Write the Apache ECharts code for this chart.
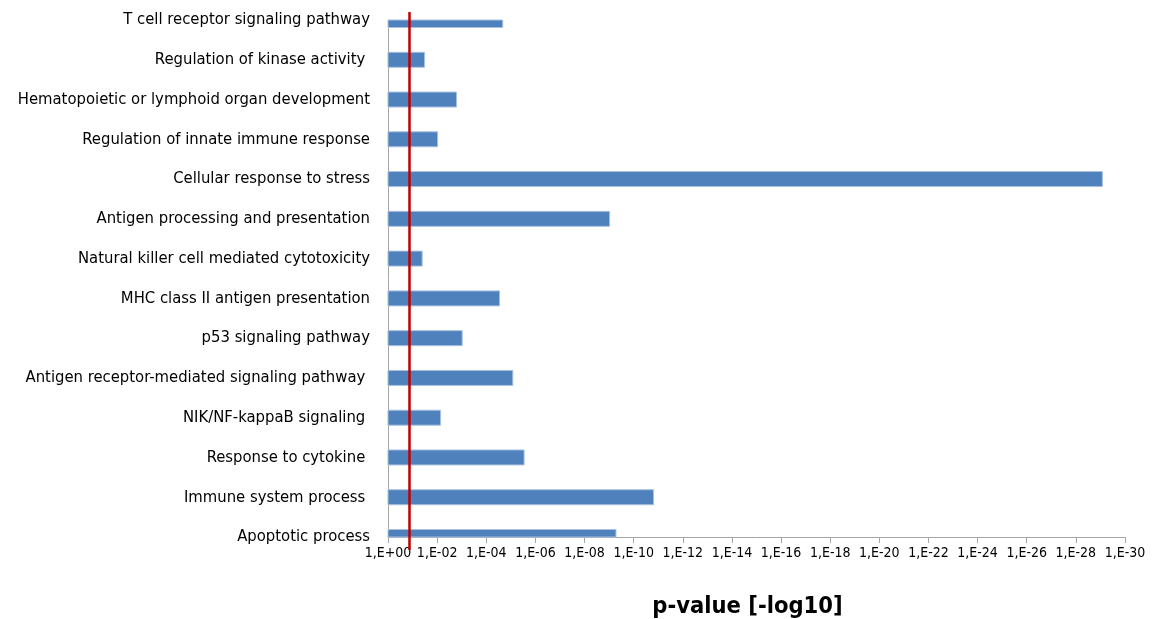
<!DOCTYPE html>
<html>
<head>
<meta charset="utf-8">
<script src="https://cdn.jsdelivr.net/npm/echarts@6/dist/echarts.min.js"></script>
<style>
  html, body { margin: 0; padding: 0; background: #fff; }
  #chart { width: 1153px; height: 619px; }
</style>
</head>
<body>
<div id="chart"></div>
<script>
  // categories, top to bottom
  var terms = [
    'T cell receptor signaling pathway',
    'Regulation of kinase activity ',
    'Hematopoietic or lymphoid organ development',
    'Regulation of innate immune response',
    'Cellular response to stress',
    'Antigen processing and presentation',
    'Natural killer cell mediated cytotoxicity',
    'MHC class II antigen presentation',
    'p53 signaling pathway',
    'Antigen receptor-mediated signaling pathway ',
    'NIK/NF-kappaB signaling ',
    'Response to cytokine ',
    'Immune system process ',
    'Apoptotic process'
  ];
  // -log10(p)
  var negLogP = [4.67, 1.49, 2.79, 2.02, 29.08, 9.02, 1.39, 4.54, 3.02, 5.08, 2.14, 5.54, 10.81, 9.28];
  // threshold line (red)
  var cutoff = 0.875;
  var xTicks = [0, 2, 4, 6, 8, 10, 12, 14, 16, 18, 20, 22, 24, 26, 28, 30];
  var xTickLabels = ['1,E+00', '1,E-02', '1,E-04', '1,E-06', '1,E-08', '1,E-10', '1,E-12', '1,E-14',
    '1,E-16', '1,E-18', '1,E-20', '1,E-22', '1,E-24', '1,E-26', '1,E-28', '1,E-30'];

  var font = '"Liberation Sans Narrow", "DejaVu Sans Condensed", sans-serif';
  var chart = echarts.init(document.getElementById('chart'));

  // bars sit on the category lines, so the first and last are cut by the plot area
  function renderBar (params, api) {
    var start = api.coord([0, api.value(1)]);
    var end = api.coord([api.value(0), api.value(1)]);
    var h = 15;
    var rect = echarts.graphic.clipRectByRect({
      x: start[0],
      y: start[1] - h / 2,
      width: end[0] - start[0],
      height: h
    }, {
      x: params.coordSys.x,
      y: params.coordSys.y,
      width: params.coordSys.width,
      height: params.coordSys.height
    });
    return rect && {
      type: 'rect',
      shape: rect,
      style: { fill: '#4f81bd', stroke: '#a9c1e0', lineWidth: 1 }
    };
  }

  chart.setOption({
    animation: false,
    grid: [
      { left: 388, right: 28, top: 20, bottom: 82, containLabel: false, outerBoundsMode: 'none' },
      { left: 388, right: 28, top: 12, bottom: 69, containLabel: false, outerBoundsMode: 'none' }
    ],
    xAxis: [{
      type: 'value',
      gridIndex: 0,
      min: 0,
      max: 30,
      interval: 2,
      name: 'p-value [-log10]',
      nameLocation: 'middle',
      nameGap: 58,
      nameTextStyle: {
        fontFamily: font,
        fontWeight: 'bold',
        fontSize: 23.5,
        color: '#000',
        padding: [0, 18, 0, 0]
      },
      axisLine: { show: true, lineStyle: { color: '#a6a6a6', width: 1 } },
      axisTick: { show: true, length: 6, lineStyle: { color: '#a6a6a6' } },
      axisLabel: {
        fontFamily: font,
        fontSize: 14,
        color: '#000',
        margin: 9,
        showMinLabel: true,
        showMaxLabel: true,
        hideOverlap: false,
        formatter: function (v) {
          return xTickLabels[xTicks.indexOf(v)];
        }
      },
      splitLine: { show: false }
    }, {
      type: 'value',
      gridIndex: 1,
      min: 0,
      max: 30,
      show: false
    }],
    yAxis: [{
      type: 'category',
      gridIndex: 0,
      data: terms,
      inverse: true,
      boundaryGap: false,
      axisLine: { show: true, lineStyle: { color: '#a6a6a6', width: 1 } },
      axisTick: { show: false },
      axisLabel: {
        fontFamily: font,
        fontSize: 16.5,
        color: '#000',
        margin: 18,
        interval: 0,
        hideOverlap: false
      },
      splitLine: { show: false }
    }, {
      type: 'value',
      gridIndex: 1,
      min: 0,
      max: 1,
      show: false
    }],
    series: [{
      type: 'custom',
      xAxisIndex: 0,
      yAxisIndex: 0,
      renderItem: renderBar,
      encode: { x: 0, y: 1 },
      data: negLogP.map(function (v, i) { return [v, i]; }),
      z: 2
    }, {
      type: 'line',
      xAxisIndex: 1,
      yAxisIndex: 1,
      data: [[cutoff, 0], [cutoff, 1]],
      symbol: 'none',
      lineStyle: { color: '#c00000', width: 2.5 },
      z: 5
    }]
  });
</script>
</body>
</html>
